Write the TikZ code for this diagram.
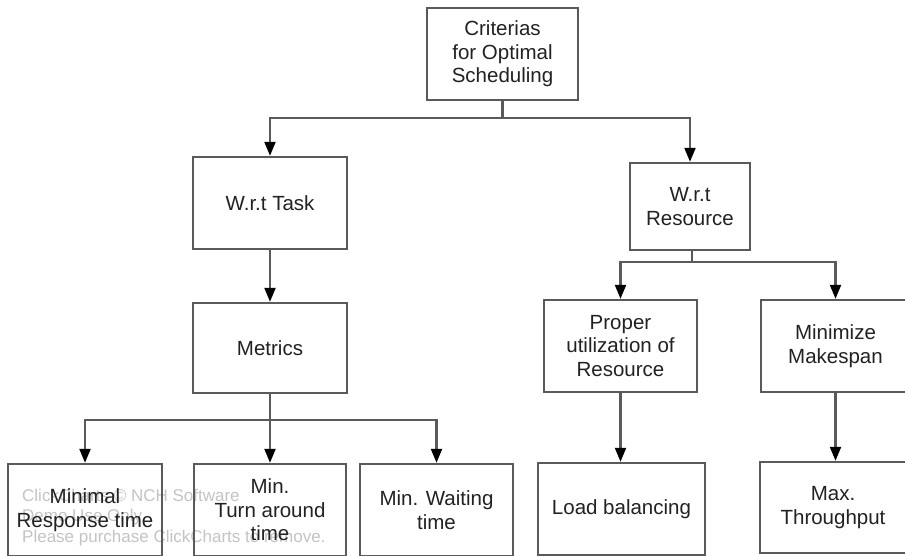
\documentclass[tikz,border=0pt]{standalone}
\usepackage{fontspec}
\setmainfont{Liberation Sans}
\usetikzlibrary{arrows.meta}
\definecolor{linegray}{HTML}{5A5A5A}
\definecolor{txt}{HTML}{222222}
\definecolor{wm}{HTML}{C4C4C4}
\begin{document}
\begin{tikzpicture}[x=1pt,y=-1pt,
  box/.style={draw=linegray,line width=2.4pt,minimum width=#1,inner sep=2pt,align=center,text=txt,font=\fontsize{20.5}{23.5}\selectfont},
  box/.default=154pt,
  conn/.style={draw=linegray,line width=2.2pt},
  arr/.style={conn,-{Triangle[width=11pt,length=14pt,fill=black,color=black]}},
  wmark/.style={text=wm,font=\fontsize{17}{20}\selectfont,inner sep=0pt,anchor=west}
]
\clip (0,0) rectangle (905,556);
\useasboundingbox (0,0) rectangle (905,556);
\fill[white] (0,0) rectangle (905,556);

% watermark
\node[wmark] (w1) at (22,495) {ClickCharts © NCH Software};
\node[wmark] (w2) at (22,517) {Demo Use Only};
\node[wmark] (w3) at (22,538) {Please purchase ClickCharts to remove.};

% nodes
\node[box=151pt,minimum height=92pt] (crit) at (502.5,54) {Criterias\\for Optimal\\Scheduling};
\node[box=154pt,minimum height=92pt] (task) at (270,203) {W.r.t Task};
\node[box=120pt,minimum height=87pt] (res) at (690,206.5) {W.r.t\\Resource};
\node[box=154pt,minimum height=90pt] (metrics) at (270,348) {Metrics};
\node[box=153pt,minimum height=92pt] (prop) at (620.5,346) {Proper\\utilization of\\Resource};
\node[box=149pt,minimum height=92pt] (mini) at (835.5,346) {Minimize\\Makespan};
\node[box=154pt,minimum height=92pt] (b1) at (85,510) {Minimal\\Response time};
\node[box=152pt,minimum height=92pt] (b2) at (270,510) {Min.\\Turn around\\time};
\node[box=153pt,minimum height=92pt] (b3) at (436.5,510) {Min. Waiting\\time};
\node[box=167pt,minimum height=92pt] (lb) at (621.5,509) {Load balancing};
\node[box=146pt,minimum height=91pt] (mt) at (833,507.5) {Max.\\Throughput};

% junctions
\coordinate (j1) at (502.5,118);
\coordinate (j2) at (270,420);
\coordinate (j3) at (692,262);

% connectors
\draw[conn] (crit.south) -- (j1);
\draw[arr] (j1) -| (task.north);
\draw[arr] (j1) -| (res.north);
\draw[arr] (task.south) -- (metrics.north);
\draw[conn] (metrics.south) -- (j2);
\draw[arr] (j2) -| (b1.north);
\draw[arr] (j2) -- (b2.north);
\draw[arr] (j2) -| (b3.north);
\draw[conn] (res.south -| j3) -- (j3);
\draw[arr] (j3) -| (prop.north);
\draw[arr] (j3) -| (mini.north);
\draw[arr] (prop.south) -- (prop.south |- lb.north);
\draw[arr] (mini.south) -- (mini.south |- mt.north);
\end{tikzpicture}
\end{document}
